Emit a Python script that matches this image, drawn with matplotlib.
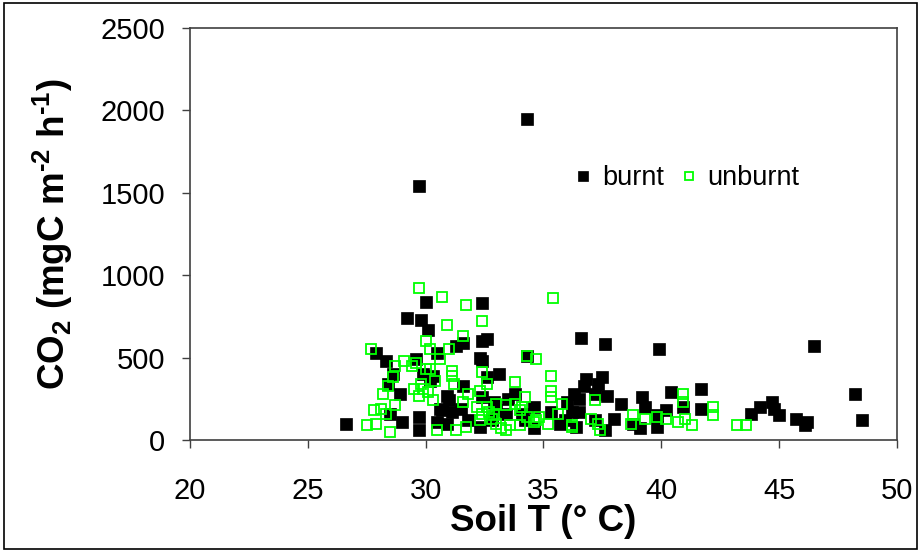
import matplotlib
matplotlib.use('Agg')
import matplotlib.pyplot as plt
from matplotlib.patches import Rectangle

plt.rcParams['font.family'] = ['Liberation Sans', 'DejaVu Sans']
plt.rcParams['mathtext.fontset'] = 'custom'
plt.rcParams['mathtext.rm'] = 'Liberation Sans:bold'
plt.rcParams['mathtext.bf'] = 'Liberation Sans:bold'

# burnt plots (soil temperature, CO2 flux)
burnt_t = [26.6, 29.7, 34.3, 29.2, 29.8, 30.0, 30.1, 32.4, 32.6, 32.4,
           31.6, 31.3, 30.5, 27.9, 28.3, 29.6, 32.3, 32.4, 33.1, 34.3,
           36.6, 37.6, 39.9, 46.5, 48.2, 48.5, 46.2, 46.1, 45.7, 45.0,
           44.7, 44.8, 44.2, 43.8, 41.7, 41.7, 40.9, 40.4, 40.2, 39.8,
           39.8, 39.3, 39.2, 39.1, 38.8, 38.3, 38.0, 37.7, 37.6, 37.5,
           37.3, 37.2, 36.8, 36.7, 36.5, 36.3, 36.2, 36.0, 35.9, 36.4,
           35.7, 34.6, 34.6, 34.2, 33.8, 33.5, 33.4, 32.9, 32.6, 32.4,
           32.3, 31.8, 31.6, 31.5, 31.1, 30.9, 30.9, 30.7, 30.6, 30.5,
           30.3, 30.2, 29.9, 29.7, 29.7, 29.0, 28.9, 28.6, 28.4, 28.5,
           33.0, 34.1, 35.3, 37.2, 36.5, 32.8, 31.0]
burnt_co2 = [95, 1540, 1950, 740, 730, 840, 670, 830, 610, 600,
             590, 570, 530, 530, 480, 490, 500, 480, 400, 510,
             620, 580, 550, 570, 280, 120, 110, 90, 130, 150,
             230, 190, 200, 160, 310, 190, 200, 290, 180, 150,
             80, 200, 260, 70, 100, 220, 130, 270, 60, 380,
             340, 280, 370, 330, 250, 280, 170, 230, 120, 80,
             100, 200, 70, 120, 280, 250, 160, 230, 380, 260,
             80, 120, 330, 190, 170, 270, 100, 180, 190, 110,
             390, 360, 400, 140, 60, 110, 280, 400, 340, 160,
             180, 160, 170, 120, 170, 120, 240]

# unburnt plots
unburnt_t = [27.7, 29.7, 30.7, 31.7, 35.4, 32.4, 30.9, 31.6, 30.0, 31.0,
             30.2, 30.6, 29.1, 28.7, 29.4, 29.6, 30.0, 30.2, 31.1, 31.1,
             32.4, 34.3, 34.7, 35.3, 33.8, 32.6, 31.2, 30.4, 29.8, 29.5,
             29.9, 30.1, 29.7, 31.8, 32.3, 35.3, 35.3, 34.2, 33.0, 33.4,
             34.1, 33.8, 34.0, 35.8, 37.2, 40.9, 40.9, 42.2, 42.2, 28.2,
             28.6, 28.4, 28.7, 27.8, 28.1, 28.3, 27.5, 27.9, 28.5, 30.5,
             31.3, 31.7, 32.3, 32.2, 32.4, 32.7, 32.9, 33.0, 33.2, 33.4,
             33.6, 34.0, 34.3, 34.6, 34.8, 35.2, 35.6, 36.2, 37.0, 37.3,
             37.4, 38.8, 39.3, 39.8, 40.2, 40.7, 41.0, 41.3, 43.2, 43.6,
             32.6, 31.6, 32.8, 34.7, 30.3, 36.2, 38.7]
unburnt_co2 = [550, 920, 870, 820, 860, 720, 700, 630, 600, 550,
               550, 490, 480, 450, 450, 470, 430, 430, 420, 390,
               410, 510, 490, 390, 350, 340, 340, 360, 340, 310,
               310, 290, 270, 280, 300, 300, 260, 260, 220, 210,
               200, 220, 180, 220, 240, 280, 230, 200, 150, 280,
               380, 330, 210, 180, 190, 160, 90, 100, 50, 60,
               60, 80, 120, 200, 160, 170, 150, 100, 70, 60,
               90, 90, 140, 110, 140, 100, 160, 80, 130, 100,
               60, 150, 130, 140, 130, 110, 130, 90, 90, 90,
               200, 230, 130, 120, 240, 90, 100]

fig = plt.figure(figsize=(9.21, 5.52), dpi=100)
ax = fig.add_axes([0.2063, 0.2029, 0.7676, 0.7464])

ax.plot(burnt_t, burnt_co2, 's', ls='none', color='black', ms=8.0,
        mec='black', mew=0.5, label='burnt')
ax.plot(unburnt_t, unburnt_co2, 's', ls='none', mfc='none', mec='#00ff00',
        ms=7.4, mew=1.3, label='unburnt')

ax.set_xlim(20, 50)
ax.set_ylim(0, 2500)
ax.set_xticks(range(20, 51, 5))
ax.set_yticks(range(0, 2501, 500))

for s in ax.spines.values():
    s.set_color('#404040')
    s.set_linewidth(1.2)

ax.tick_params(axis='x', direction='out', length=6, width=1, color='#404040',
               labelsize=21, pad=21, top=False)
ax.tick_params(axis='y', direction='out', length=6, width=1, color='#404040',
               labelsize=21, pad=12, right=False)

ax.set_xlabel('Soil T (° C)', fontsize=26.5, fontweight='bold')
ax.xaxis.set_label_coords(0.5, -0.155)
ax.set_ylabel(r'CO$_2$ (mgC m$^{\text{-}2}$ h$^{\text{-}1}$)', fontsize=26.5,
              fontweight='bold')
ax.yaxis.set_label_coords(-0.163, 0.5)

leg = ax.legend(loc='center left', bbox_to_anchor=(0.545, 0.635), ncol=2,
                frameon=False, fontsize=19.5, handlelength=0.6,
                handletextpad=0.4, columnspacing=0.6, borderpad=0,
                borderaxespad=0, markerscale=0.85)

# outer border around the whole picture
fig.patches.append(Rectangle((0.004, 0.006), 0.992, 0.988, transform=fig.transFigure,
                             fill=False, edgecolor='black', linewidth=1.2))

fig.savefig('out.png', dpi=100)
